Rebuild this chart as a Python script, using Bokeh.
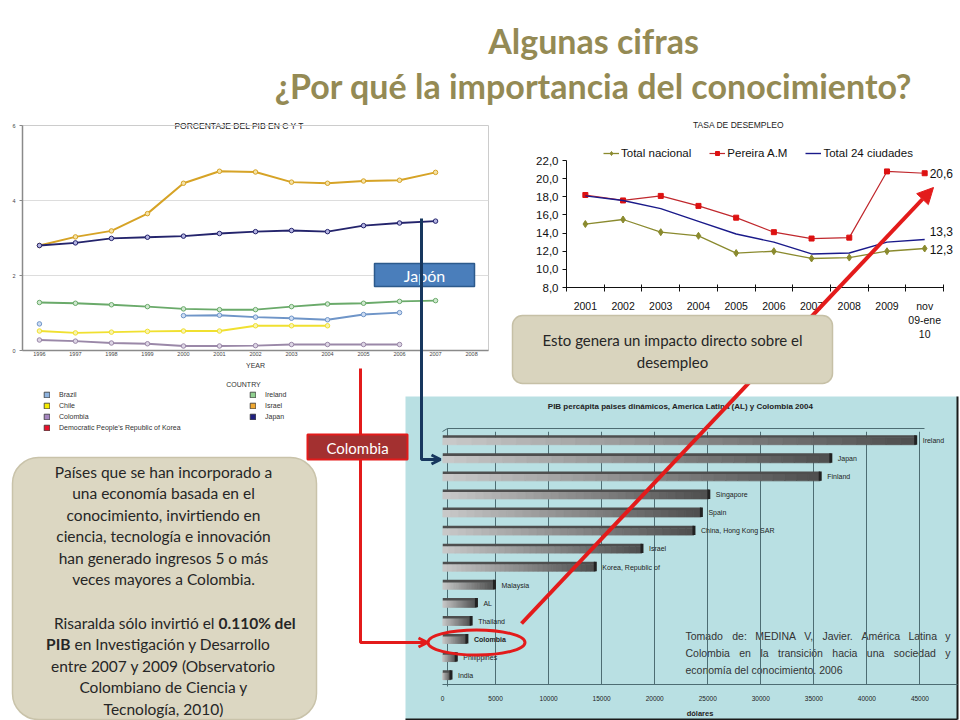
from bokeh.plotting import figure
from bokeh.models import (Range1d, FactorRange, FixedTicker, CustomJSTickFormatter,
                          ColumnDataSource, Legend, LegendItem, Arrow, NormalHead, OpenHead, GridBox)
from bokeh.transform import dodge
from bokeh.core.properties import value, field
from bokeh.embed import file_html
from bokeh.resources import INLINE

NAN = float("nan")

# ---------------- data: chart 1 (PORCENTAJE DEL PIB EN C Y T) ----------------
years = [1996, 1997, 1998, 1999, 2000, 2001, 2002, 2003, 2004, 2005, 2006, 2007]
year_ticks = [1996, 1997, 1998, 1999, 2000, 2001, 2002, 2003, 2004, 2005, 2006, 2007, 2008]
brazil = [0.71, NAN, NAN, NAN, 0.93, 0.94, 0.89, 0.86, 0.82, 0.96, 1.01, NAN]
chile = [0.52, 0.47, 0.49, 0.51, 0.52, 0.52, 0.66, 0.66, 0.66, NAN, NAN, NAN]
colombia = [0.28, 0.25, 0.20, 0.18, 0.12, 0.12, 0.13, 0.16, 0.16, 0.16, 0.16, NAN]
korea = [NAN] * 12
ireland = [1.28, 1.26, 1.22, 1.17, 1.11, 1.09, 1.09, 1.17, 1.24, 1.26, 1.31, 1.33]
israel = [2.80, 3.03, 3.19, 3.65, 4.46, 4.78, 4.76, 4.49, 4.46, 4.52, 4.54, 4.75]
japan = [2.80, 2.87, 2.99, 3.02, 3.05, 3.12, 3.17, 3.20, 3.17, 3.33, 3.40, 3.45]
y1_ticks = [0, 2, 4, 6]
legend_left = ["Brazil", "Chile", "Colombia", "Democratic People's Republic of Korea"]
legend_right = ["Ireland", "Israel", "Japan"]

# ---------------- data: chart 2 (TASA DE DESEMPLEO) ----------------
periods = ["2001", "2002", "2003", "2004", "2005", "2006", "2007", "2008", "2009", "nov\n09-ene\n10"]
total_nacional = [15.0, 15.5, 14.1, 13.7, 11.8, 12.0, 11.2, 11.3, 12.0, 12.3]
pereira = [18.2, 17.6, 18.1, 17.0, 15.7, 14.1, 13.4, 13.5, 20.8, 20.6]
total_24 = [18.1, 17.6, 16.7, 15.3, 13.9, 13.0, 11.7, 11.8, 13.0, 13.3]
y2_ticks = [8, 10, 12, 14, 16, 18, 20, 22]

# ---------------- data: chart 3 (PIB percápita 2004) ----------------
paises = ["Ireland", "Japan", "Finland", "Singapore", "Spain", "China, Hong Kong SAR", "Israel",
          "Korea, Republic of", "Malaysia", "AL", "Thailand", "Colombia", "Philippines", "India"]
pib_pc = [44600, 36600, 35600, 25100, 24400, 23700, 18800, 14400, 4900, 3200, 2700, 2300, 1300, 800]
x3_ticks = [0, 5000, 10000, 15000, 20000, 25000, 30000, 35000, 40000, 45000]

# ---------------- page geometry ----------------
W, H = 960, 720
SX, SY = W / 960, H / 720
ARIAL = "Liberation Sans"
BODY = "Lato"


def fs(px):
    return f"{px * SY:.1f}px"


def page_fig():
    p = figure(width=W, height=H, x_range=Range1d(0, 960), y_range=Range1d(720, 0),
               x_axis_location=None, y_axis_location=None, output_backend="svg",
               toolbar_location=None, min_border=0, sizing_mode="fixed")
    p.grid.visible = False
    p.outline_line_color = None
    p.background_fill_color = None
    p.border_fill_color = None
    return p


def chart_fig(x0, x1, y0, y1, xr, yr, **kw):
    p = figure(width=W, height=H, x_range=xr, y_range=yr, output_backend="svg",
               toolbar_location=None, sizing_mode="fixed",
               min_border_left=round(x0 * SX), min_border_right=W - round(x1 * SX),
               min_border_top=round(y0 * SY), min_border_bottom=H - round(y1 * SY), **kw)
    p.background_fill_color = None
    p.border_fill_color = None
    p.outline_line_color = None
    return p


def txt(p, x, y, s, size, color="#222222", font=BODY, style="normal", align="center"):
    p.text(x=[x], y=[y], text=[s], text_font=value(font), text_font_size=fs(size),
           text_color=color, text_font_style=style, text_align=align, text_baseline="middle")


# approximate Arial advance widths (em) for laying out justified words
_AW = dict(zip("abcdefghijklmnopqrstuvwxyz",
               [.556, .556, .5, .556, .556, .278, .556, .556, .222, .222, .5, .222, .833,
                .556, .556, .556, .556, .333, .5, .278, .556, .5, .722, .5, .5, .5]))
_AW.update(dict(zip("ABCDEFGHIJKLMNOPQRSTUVWXYZ",
                    [.667, .667, .722, .722, .667, .611, .778, .722, .278, .5, .667, .556, .833,
                     .722, .778, .667, .778, .722, .667, .611, .722, .667, .944, .667, .667, .611])))
_AW.update({"é": .556, "á": .556, "ó": .556, "í": .278, "ú": .556, ".": .278, ",": .278, ":": .278})


def word_w(w, size):
    return sum(_AW.get(ch, .556) for ch in w) * size


# =============== base layer ===============
base = page_fig()
TITLE_C = "#948a54"
txt(base, 593, 40, "Algunas cifras", 34, TITLE_C, BODY, "bold")
txt(base, 593, 85, "¿Por qué la importancia del conocimiento?", 34, TITLE_C, BODY, "bold")
txt(base, 240, 125, "PORCENTAJE  DEL PIB EN C Y T", 8.5, "#222222", ARIAL)
txt(base, 738, 124, "TASA DE DESEMPLEO", 8.5, "#222222", ARIAL)
txt(base, 243, 384, "COUNTRY", 7, "#333333", ARIAL)


def legend_block(p, names, colors, x_left, y_bottom):
    items = []
    for n, c in zip(names, colors):
        r = p.quad(left=[NAN], right=[NAN], top=[NAN], bottom=[NAN], fill_color=c,
                   line_color="#333333", line_width=0.8)
        items.append(LegendItem(label=n, renderers=[r]))
    lg = Legend(items=items, location=(x_left * SX, (720 - y_bottom) * SY), orientation="vertical",
                padding=0, margin=0, spacing=3, glyph_width=7, glyph_height=7, label_height=8,
                label_standoff=9, label_text_font_size=fs(7), label_text_font=ARIAL,
                label_text_color="#333333", border_line_color=None, background_fill_alpha=0)
    p.add_layout(lg)


legend_block(base, legend_left, ["#8fb4e0", "#f5ec00", "#a687c0", "#e8102a"], 43, 431)
legend_block(base, legend_right, ["#90d090", "#f0a830", "#202080"], 249, 420)

# cyan panel of chart 3
base.quad(left=[405], right=[957], top=[396], bottom=[719], fill_color="#b9e0e3", line_color=None)
base.line([957, 957], [396, 719], line_color="#1a1a1a", line_width=2)
base.line([405, 957], [719, 719], line_color="#1a1a1a", line_width=2)
txt(base, 680, 406, "PIB percápita paises dinámicos, America Latina (AL) y Colombia 2004", 8, "#222222", ARIAL, "bold")
EDGE = "#4d6d73"
base.line([442, 447, 924], [431, 428, 428], line_color=EDGE, line_width=1)
base.line([447, 447], [428, 686], line_color=EDGE, line_width=1)


def justified(p, words, x0, x1, y, size):
    n = len(words)
    widths = [word_w(w, size) for w in words]
    gap = (x1 - x0 - sum(widths)) / (n - 1)
    x = x0
    for i, w in enumerate(words):
        if i == n - 1:
            txt(p, x1, y, w, size, "#333333", ARIAL, align="right")
        else:
            txt(p, x, y, w, size, "#333333", ARIAL, align="left")
        x += widths[i] + gap


justified(base, "Tomado de: MEDINA V, Javier. América Latina y".split(), 685, 950, 635, 10.5)
justified(base, "Colombia en la transición hacia una sociedad y".split(), 685, 950, 652, 10.5)
txt(base, 685, 669, "economía del conocimiento. 2006", 10.5, "#333333", ARIAL, align="left")

base.quad(left=[12], right=[316], top=[457], bottom=[719], fill_color="#dcd7c2", line_color="#c9c3aa",
          line_width=1.5, border_radius=26)
left_lines = ["Países que se han incorporado a", "una economía basada en el",
              "conocimiento, invirtiendo en", "ciencia, tecnología e innovación",
              "han generado ingresos 5 o más", "veces mayores a Colombia."]
for i, s in enumerate(left_lines):
    txt(base, 163, 471 + i * 21.5, s, 15.5, "#262626")
txt(base, 214, 622, "Risaralda sólo invirtió el", 15.5, "#262626", align="right")
txt(base, 218, 622, "0.110% del", 15.5, "#262626", style="bold", align="left")
txt(base, 70, 643.5, "PIB", 15.5, "#262626", style="bold", align="right")
txt(base, 74, 643.5, "en Investigación y Desarrollo", 15.5, "#262626", align="left")
for i, s in enumerate(["entre 2007 y 2009 (Observatorio", "Colombiano de Ciencia y", "Tecnología, 2010)"]):
    txt(base, 163, 665 + i * 21.5, s, 15.5, "#262626")

# =============== chart 1 ===============
p1 = chart_fig(22, 488, 125, 350, Range1d(1995.53, 2008.47), Range1d(0, 6))
p1.outline_line_color = "#cccccc"
p1.xgrid.visible = False
p1.ygrid.grid_line_color = "#dddddd"
p1.xaxis.ticker = FixedTicker(ticks=year_ticks)
p1.yaxis.ticker = FixedTicker(ticks=y1_ticks)
for ax in (p1.xaxis, p1.yaxis):
    ax.major_label_text_font_size = fs(5.5)
    ax.major_label_text_font = ARIAL
    ax.major_label_text_color = "#444444"
    ax.axis_line_color = "#8a8a8a"
    ax.axis_line_width = 1.5
    ax.minor_tick_line_color = None
p1.xaxis.major_tick_line_color = None
p1.xaxis.major_tick_out = 0
p1.xaxis.major_label_standoff = 1
p1.yaxis.major_tick_line_color = "#8a8a8a"
p1.yaxis.major_tick_in = 0
p1.yaxis.major_tick_out = 3
p1.yaxis.major_label_standoff = 4
p1.xaxis.axis_label = "YEAR"
p1.xaxis.axis_label_text_font_size = fs(7)
p1.xaxis.axis_label_text_font_style = "normal"
p1.xaxis.axis_label_text_font = ARIAL
p1.xaxis.axis_label_text_color = "#333333"
p1.xaxis.axis_label_standoff = 3

series1 = [(colombia, "#9a88a8", "#ddd5e5"), (chile, "#f0e030", "#f8f3b0"),
           (brazil, "#6f95c8", "#cddcf2"), (ireland, "#6aaa6a", "#cfe8cf"),
           (israel, "#d6a326", "#f5e2a6"), (japan, "#24246c", "#b4b4e2"), (korea, "#e8102a", "#f5a0a8")]
for vals, c, fc in series1:
    p1.line(years, vals, line_color=c, line_width=2)
    p1.scatter(years, vals, size=4.5, fill_color=fc, line_color=c, line_width=1)

# =============== chart 2 ===============
xs2 = [i + 0.5 for i in range(len(periods))]
p2 = chart_fig(566, 960, 145, 287, Range1d(0, 10.45), Range1d(8, 23.66))
p2.grid.visible = False
p2.xaxis.bounds = (0, 10)
p2.yaxis.bounds = (8, 22)
p2.xaxis.ticker = FixedTicker(ticks=xs2, minor_ticks=list(range(len(periods) + 1)))
p2.xaxis.formatter = CustomJSTickFormatter(args=dict(labels=periods),
                                           code="return labels[Math.floor(tick)];")
p2.yaxis.ticker = FixedTicker(ticks=y2_ticks)
p2.yaxis.formatter = CustomJSTickFormatter(code="return tick.toFixed(1).replace('.', ',');")
for ax in (p2.xaxis, p2.yaxis):
    ax.major_label_text_font = ARIAL
    ax.major_label_text_color = "#111111"
    ax.axis_line_color = "#111111"
p2.xaxis.major_label_text_font_size = fs(10.5)
p2.yaxis.major_label_text_font_size = fs(11.5)
p2.xaxis.major_tick_line_color = None
p2.xaxis.major_tick_out = 0
p2.xaxis.minor_tick_line_color = "#111111"
p2.xaxis.minor_tick_in = 3
p2.xaxis.minor_tick_out = 4
p2.xaxis.major_label_standoff = 8
p2.yaxis.minor_tick_line_color = None
p2.yaxis.major_tick_line_color = "#111111"
p2.yaxis.major_tick_in = 0
p2.yaxis.major_tick_out = 4
p2.yaxis.major_label_standoff = 4

r_nac_l = p2.line(xs2, total_nacional, line_color="#8a8a2e", line_width=1.3)
r_nac_m = p2.scatter(xs2, total_nacional, marker="diamond", size=7, fill_color="#8a8a2e", line_color="#8a8a2e")
r_per_l = p2.line(xs2, pereira, line_color="#c0282d", line_width=1.2)
r_per_m = p2.scatter(xs2, pereira, marker="square", size=5, fill_color="#dd1111", line_color="#dd1111")
r_24_l = p2.line(xs2, total_24, line_color="#1a1a8a", line_width=1.4)

end_vals = [pereira[-1], total_24[-1], total_nacional[-1]]
p2.text(x=[xs2[-1]] * 3, y=end_vals, text=[f"{v:.1f}".replace(".", ",") for v in end_vals],
        x_offset=5, y_offset=[0, -8, 1], text_font=value(ARIAL), text_font_size=fs(12),
        text_color="#111111", text_baseline="middle", text_align="left")

lg2 = Legend(items=[LegendItem(label="Total nacional", renderers=[r_nac_l, r_nac_m]),
                    LegendItem(label="Pereira A.M", renderers=[r_per_l, r_per_m]),
                    LegendItem(label="Total 24 ciudades", renderers=[r_24_l])],
             location=(37 * SX, (287 - 159) * SY), orientation="horizontal", padding=0, margin=0,
             spacing=18, glyph_width=16, glyph_height=10, label_height=10, label_standoff=2,
             label_text_font=ARIAL, label_text_font_size=fs(11.5), label_text_color="#111111",
             border_line_color=None, background_fill_alpha=0)
p2.add_layout(lg2)

# =============== chart 3 ===============
p3 = chart_fig(442, 957, 431, 690, Range1d(0, 48540), FactorRange(factors=paises[::-1]),
               y_axis_location=None)
p3.ygrid.visible = False
p3.xaxis.ticker = FixedTicker(ticks=x3_ticks)
p3.xgrid.ticker = FixedTicker(ticks=x3_ticks)
p3.xgrid.grid_line_color = EDGE
p3.xaxis.axis_line_color = EDGE
p3.xaxis.major_tick_line_color = None
p3.xaxis.minor_tick_line_color = None
p3.xaxis.major_label_text_font = ARIAL
p3.xaxis.major_label_text_font_size = fs(6.5)
p3.xaxis.major_label_text_color = "#222222"
p3.xaxis.major_label_standoff = 5
p3.xaxis.axis_label = "dólares"
p3.xaxis.axis_label_text_font = ARIAL
p3.xaxis.axis_label_text_font_size = fs(7.5)
p3.xaxis.axis_label_text_font_style = "bold"
p3.xaxis.axis_label_text_color = "#222222"
p3.xaxis.axis_label_standoff = 5

src3 = ColumnDataSource(dict(pais=paises, v=pib_pc,
                             fstyle=["bold" if c == "Colombia" else "normal" for c in paises]))
N = 32
for k in range(N):
    src3.data[f"l{k}"] = [v * k / N for v in pib_pc]
    src3.data[f"r{k}"] = [v * (k + 1) / N for v in pib_pc]
    t = k / (N - 1)
    g = int(200 - t * 120)
    col = f"#{g:02x}{g:02x}{g:02x}"
    p3.hbar(y=dodge("pais", -0.04, range=p3.y_range), left=f"l{k}", right=f"r{k}", height=0.38,
            fill_color=col, line_color=col, line_width=0.8, source=src3)
p3.hbar(y=dodge("pais", 0.22, range=p3.y_range), left=0, right="v", height=0.14,
        fill_color="#4e4e4e", line_color=None, source=src3)
p3.segment(x0="v", y0=dodge("pais", -0.23, range=p3.y_range), x1="v", y1=dodge("pais", 0.29, range=p3.y_range),
           line_color="#222222", line_width=3, source=src3)
p3.text(x="v", y="pais", text="pais", x_offset=7, text_font=value(ARIAL), text_font_size=fs(7),
        text_color="#222222", text_baseline="middle", text_align="left",
        text_font_style=field("fstyle"), source=src3)

# =============== top overlay ===============
top = page_fig()
RED = "#e31b1b"
NAVY = "#17375e"
top.add_layout(Arrow(x_start=521, y_start=623, x_end=933, y_end=187, line_color=RED, line_width=4,
                     level="underlay", end=NormalHead(size=16, fill_color=RED, line_color=RED)))
top.line([360, 360, 421], [368, 642, 642], line_color=RED, line_width=3)
top.add_layout(Arrow(x_start=412, y_start=642, x_end=427, y_end=642, line_color=RED, line_width=3,
                     end=OpenHead(size=9, line_color=RED, line_width=3)))
top.quad(left=[307], right=[407], top=[434], bottom=[459], fill_color="#a33030", line_color=RED, line_width=2)
txt(top, 357, 447, "Colombia", 15, "#ffffff")
top.quad(left=[374], right=[474], top=[263], bottom=[286], fill_color="#4a7ebb", line_color="#2c5a8c", line_width=1.5)
txt(top, 424, 275, "Japón", 16, "#ffffff")
top.line([421, 421, 434], [218, 459, 459], line_color=NAVY, line_width=3)
top.add_layout(Arrow(x_start=428, y_start=459, x_end=440, y_end=459, line_color=NAVY, line_width=3,
                     end=OpenHead(size=9, line_color=NAVY, line_width=3)))
top.ellipse(x=[476], y=[642], width=[97], height=[25], fill_color=None, line_color=RED, line_width=3)
top.quad(left=[512], right=[832], top=[315], bottom=[383], fill_color="#d9d4be", line_color="#c6c0a6",
         line_width=1.5, border_radius=10)
txt(top, 672, 339, "Esto genera un impacto directo sobre el", 15, "#262626")
txt(top, 672, 361, "desempleo", 15, "#262626")

# Stack the five layers: each one in its own row and column (so no frame alignment
# is forced between them); zero-size leading tracks make them all start at the origin.
layers = [base, p1, p2, p3, top]
n = len(layers)
tracks_r = ["0px"] * (n - 1) + [f"{H}px"]
tracks_c = ["0px"] * (n - 1) + [f"{W}px"]
layout = GridBox(children=[(fig, i, i) for i, fig in enumerate(layers)],
                 rows=tracks_r, cols=tracks_c, spacing=0, width=W, height=H, sizing_mode="fixed")
open("out.html", "w").write(file_html(layout, INLINE))
